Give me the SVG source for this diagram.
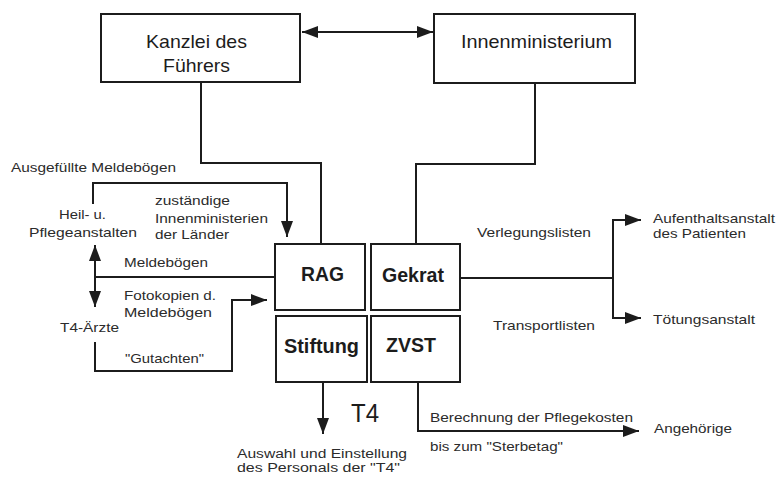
<svg xmlns="http://www.w3.org/2000/svg" width="779" height="477" viewBox="0 0 779 477">
<defs>
<style>
.box{fill:#fff;stroke:#1c1c1c;stroke-width:2}
.ln{fill:none;stroke:#1c1c1c;stroke-width:2}
.t{font-family:"Liberation Sans",Arial,sans-serif;font-size:13px;fill:#2b2b2b}
.s{font-family:"Liberation Sans",Arial,sans-serif;font-size:12px;fill:#2b2b2b}
.big{font-family:"Liberation Sans",Arial,sans-serif;font-size:18.5px;fill:#1c1c1c}
.bold{font-family:"Liberation Sans",Arial,sans-serif;font-size:20px;font-weight:bold;fill:#1c1c1c}
</style>
<marker id="ah" markerUnits="userSpaceOnUse" markerWidth="16" markerHeight="12" refX="16" refY="6" orient="auto-start-reverse">
<path d="M0,0 L16,6 L0,12 z" fill="#1c1c1c"/>
</marker>
</defs>
<rect width="779" height="477" fill="#fff"/>

<g id="connectors">
<path class="ln" d="M302,32 H433" marker-start="url(#ah)" marker-end="url(#ah)"/>
<path class="ln" d="M201,82 V163 H321 V244"/>
<path class="ln" d="M535,83 V164 H416 V244"/>
<path class="ln" d="M93,204 V183 H287 V237" marker-end="url(#ah)"/>
<path class="ln" d="M95,245 V307" marker-start="url(#ah)" marker-end="url(#ah)"/>
<path class="ln" d="M95,277 H275"/>
<path class="ln" d="M95,342 V371 H232 V300 H267" marker-end="url(#ah)"/>
<path class="ln" d="M460,278 H613"/>
<path class="ln" d="M613,278 V220 H641" marker-end="url(#ah)"/>
<path class="ln" d="M613,278 V318 H641" marker-end="url(#ah)"/>
<path class="ln" d="M323,382 V434" marker-end="url(#ah)"/>
<path class="ln" d="M418,382 V431 H639" marker-end="url(#ah)"/>
</g>

<g id="kanzlei">
<rect class="box" x="101" y="14" width="199" height="68"/>
<text class="big" x="196.5" y="48" text-anchor="middle" textLength="101" lengthAdjust="spacingAndGlyphs">Kanzlei des</text>
<text class="big" x="196.5" y="72" text-anchor="middle" textLength="67" lengthAdjust="spacingAndGlyphs">Führers</text>
</g>

<g id="innenministerium">
<rect class="box" x="434" y="14" width="201" height="69"/>
<text class="big" x="536.5" y="48" text-anchor="middle" textLength="151" lengthAdjust="spacingAndGlyphs">Innenministerium</text>
</g>

<g id="rag">
<rect class="box" x="275" y="244" width="90" height="66"/>
<text class="bold" x="322.5" y="281" text-anchor="middle" textLength="43" lengthAdjust="spacingAndGlyphs">RAG</text>
</g>
<g id="gekrat">
<rect class="box" x="371" y="244" width="89" height="66"/>
<text class="bold" x="413" y="282" text-anchor="middle" textLength="62" lengthAdjust="spacingAndGlyphs">Gekrat</text>
</g>
<g id="stiftung">
<rect class="box" x="276" y="316" width="91" height="66"/>
<text class="bold" x="321.5" y="353" text-anchor="middle" textLength="75" lengthAdjust="spacingAndGlyphs">Stiftung</text>
</g>
<g id="zvst">
<rect class="box" x="371" y="316" width="89" height="66"/>
<text class="bold" x="411" y="352" text-anchor="middle" textLength="50" lengthAdjust="spacingAndGlyphs">ZVST</text>
</g>

<g id="heil-pflegeanstalten">
<text class="t" x="59" y="219" textLength="47" lengthAdjust="spacingAndGlyphs">Heil- u.</text>
<text class="t" x="29" y="237" textLength="108" lengthAdjust="spacingAndGlyphs">Pflegeanstalten</text>
</g>
<g id="t4-aerzte">
<text class="t" x="60" y="332" textLength="59" lengthAdjust="spacingAndGlyphs">T4-Ärzte</text>
</g>
<g id="aufenthaltsanstalt">
<text class="t" x="653" y="223" textLength="122" lengthAdjust="spacingAndGlyphs">Aufenthaltsanstalt</text>
<text class="t" x="653" y="238" textLength="93" lengthAdjust="spacingAndGlyphs">des Patienten</text>
</g>
<g id="toetungsanstalt">
<text class="t" x="653" y="324" textLength="102" lengthAdjust="spacingAndGlyphs">Tötungsanstalt</text>
</g>
<g id="angehoerige">
<text class="t" x="654" y="433" textLength="78" lengthAdjust="spacingAndGlyphs">Angehörige</text>
</g>
<g id="personal">
<text class="s" x="237" y="458" textLength="170" lengthAdjust="spacingAndGlyphs">Auswahl und Einstellung</text>
<text class="s" x="237" y="472" textLength="163" lengthAdjust="spacingAndGlyphs">des Personals der "T4"</text>
</g>

<g id="labels">
<text class="t" x="11" y="172" textLength="165" lengthAdjust="spacingAndGlyphs">Ausgefüllte Meldebögen</text>
<text class="t" x="155" y="205" textLength="75" lengthAdjust="spacingAndGlyphs">zuständige</text>
<text class="t" x="155" y="223" textLength="113" lengthAdjust="spacingAndGlyphs">Innenministerien</text>
<text class="t" x="155" y="239" textLength="74" lengthAdjust="spacingAndGlyphs">der Länder</text>
<text class="t" x="124" y="267" textLength="84" lengthAdjust="spacingAndGlyphs">Meldebögen</text>
<text class="t" x="124" y="300" textLength="92" lengthAdjust="spacingAndGlyphs">Fotokopien d.</text>
<text class="t" x="124" y="317" textLength="88" lengthAdjust="spacingAndGlyphs">Meldebögen</text>
<text class="t" x="125" y="363" textLength="79" lengthAdjust="spacingAndGlyphs">"Gutachten"</text>
<text class="t" x="477" y="237" textLength="114" lengthAdjust="spacingAndGlyphs">Verlegungslisten</text>
<text class="t" x="493" y="330" textLength="102" lengthAdjust="spacingAndGlyphs">Transportlisten</text>
<text class="t" x="430" y="422" textLength="203" lengthAdjust="spacingAndGlyphs">Berechnung der Pflegekosten</text>
<text class="t" x="430" y="451" textLength="133" lengthAdjust="spacingAndGlyphs">bis zum "Sterbetag"</text>
<text style="font-family:'Liberation Sans',Arial,sans-serif;font-size:26px;fill:#1c1c1c" x="351" y="422" textLength="28" lengthAdjust="spacingAndGlyphs">T4</text>
</g>
</svg>
